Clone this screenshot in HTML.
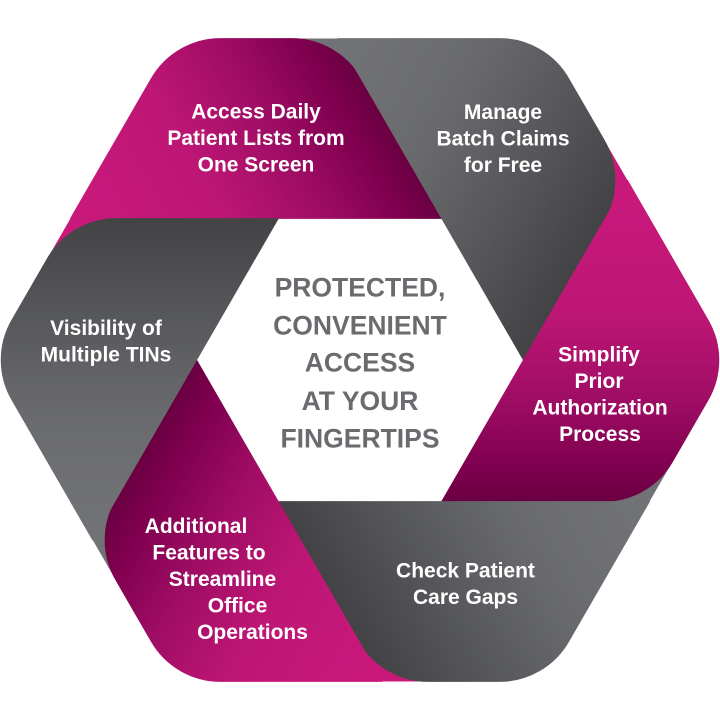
<!DOCTYPE html>
<html>
<head>
<meta charset="utf-8">
<style>
  html, body { margin: 0; padding: 0; background: #ffffff; width: 720px; height: 720px; overflow: hidden; }
  svg { display: block; }
  .w { font-family: "Liberation Sans", Arial, sans-serif; font-weight: bold; font-size: 21px; fill: #ffffff; text-anchor: middle; }
  .c { font-family: "Liberation Sans", Arial, sans-serif; font-weight: bold; font-size: 26.5px; fill: #6a6b6e; text-anchor: middle; }
</style>
</head>
<body>
<svg width="720" height="720" viewBox="0 0 720 720" xmlns="http://www.w3.org/2000/svg">
  <defs>
    <linearGradient id="gm0" gradientUnits="userSpaceOnUse" x1="389.75" y1="128.5" x2="129.95" y2="278.5">
      <stop offset="0" stop-color="#6a0042"/>
      <stop offset="0.12" stop-color="#80004f"/>
      <stop offset="0.35" stop-color="#a00d65"/>
      <stop offset="0.62" stop-color="#bd1674"/>
      <stop offset="1" stop-color="#c8197b"/>
    </linearGradient>
    <linearGradient id="gg0" gradientUnits="userSpaceOnUse" x1="389.75" y1="128.5" x2="129.95" y2="278.5">
      <stop offset="0" stop-color="#434346"/>
      <stop offset="0.3" stop-color="#555659"/>
      <stop offset="0.65" stop-color="#696a6d"/>
      <stop offset="1" stop-color="#717275"/>
    </linearGradient>
    <linearGradient id="g1" href="#gg0" gradientTransform="rotate(60 360 360)"/>
    <linearGradient id="g2" href="#gm0" gradientTransform="rotate(120 360 360)"/>
    <linearGradient id="g3" href="#gg0" gradientTransform="rotate(180 360 360)"/>
    <linearGradient id="g4" href="#gm0" gradientTransform="rotate(240 360 360)"/>
    <linearGradient id="g5" href="#gg0" gradientTransform="rotate(300 360 360)"/>
  </defs>

  <!-- hidden extension pieces filling the fold-corner gaps -->
  <path fill="url(#gm0)" d="M 70.46 218.5 L 122 218.5 L 44.7 263.2 Z"/>
  <path fill="url(#g1)" d="M 337.77 38.51 L 363.54 83.14 L 286.18 38.55 Z"/>
  <path fill="url(#g2)" d="M 627.31 180.01 L 601.54 224.64 L 601.48 135.35 Z"/>
  <path fill="url(#g3)" d="M 649.54 501.5 L 598 501.5 L 675.3 456.8 Z"/>
  <path fill="url(#g4)" d="M 382.23 681.49 L 356.46 636.86 L 433.82 681.45 Z"/>
  <path fill="url(#g5)" d="M 92.69 539.99 L 118.46 495.36 L 118.52 584.65 Z"/>

  <!-- main segments -->
  <g stroke-width="0.8" stroke-linejoin="round">
    <path fill="url(#gm0)" stroke="url(#gm0)" d="M 220.6 38.5 L 291.6 38.5 A 80 80 0 0 1 360.9 78.5 L 441.7 218.5 L 70.46 218.5 L 151.3 78.5 A 80 80 0 0 1 220.6 38.5 Z"/>
    <path fill="url(#g1)" stroke="url(#g1)" d="M 568.72 78.53 L 604.22 140.02 A 80 80 0 0 1 604.23 220.03 L 523.39 360 L 337.77 38.51 L 499.43 38.52 A 80 80 0 0 1 568.72 78.53 Z"/>
    <path fill="url(#g2)" stroke="url(#g2)" d="M 708.12 400.03 L 672.62 461.52 A 80 80 0 0 1 603.33 501.53 L 441.69 501.5 L 627.31 180.01 L 708.13 320.02 A 80 80 0 0 1 708.12 400.03 Z"/>
    <path fill="url(#g3)" stroke="url(#g3)" d="M 499.4 681.5 L 428.4 681.5 A 80 80 0 0 1 359.1 641.5 L 278.3 501.5 L 649.54 501.5 L 568.7 641.5 A 80 80 0 0 1 499.4 681.5 Z"/>
    <path fill="url(#g4)" stroke="url(#g4)" d="M 151.28 641.47 L 115.78 579.98 A 80 80 0 0 1 115.77 499.97 L 196.61 360 L 382.23 681.49 L 220.57 681.48 A 80 80 0 0 1 151.28 641.47 Z"/>
    <path fill="url(#g5)" stroke="url(#g5)" d="M 11.88 319.97 L 47.38 258.48 A 80 80 0 0 1 116.67 218.47 L 278.31 218.5 L 92.69 539.99 L 11.87 399.98 A 80 80 0 0 1 11.88 319.97 Z"/>
  </g>

  <text class="w" x="256" y="118.5">Access Daily</text>
  <text class="w" x="256" y="145">Patient Lists from</text>
  <text class="w" x="256" y="171.5">One Screen</text>

  <text class="w" x="503" y="119">Manage</text>
  <text class="w" x="503" y="145.5">Batch Claims</text>
  <text class="w" x="503" y="172">for Free</text>

  <text class="w" x="599" y="361.5">Simplify</text>
  <text class="w" x="599" y="388">Prior</text>
  <text class="w" x="600" y="414.5">Authorization</text>
  <text class="w" x="600" y="441">Process</text>

  <text class="w" x="465.5" y="577.5">Check Patient</text>
  <text class="w" x="465.5" y="604">Care Gaps</text>

  <text class="w" x="196" y="533">Additional</text>
  <text class="w" x="209" y="559.5">Features to</text>
  <text class="w" x="222.5" y="586">Streamline</text>
  <text class="w" x="237.5" y="612.5">Office</text>
  <text class="w" x="252.5" y="639">Operations</text>

  <text class="w" x="106" y="335">Visibility of</text>
  <text class="w" x="106" y="361.5">Multiple TINs</text>

  <text class="c" x="360" y="296.7">PROTECTED,</text>
  <text class="c" x="360" y="334.3">CONVENIENT</text>
  <text class="c" x="360" y="371.7">ACCESS</text>
  <text class="c" x="360" y="410">AT YOUR</text>
  <text class="c" x="360" y="447.7">FINGERTIPS</text>
</svg>
</body>
</html>
